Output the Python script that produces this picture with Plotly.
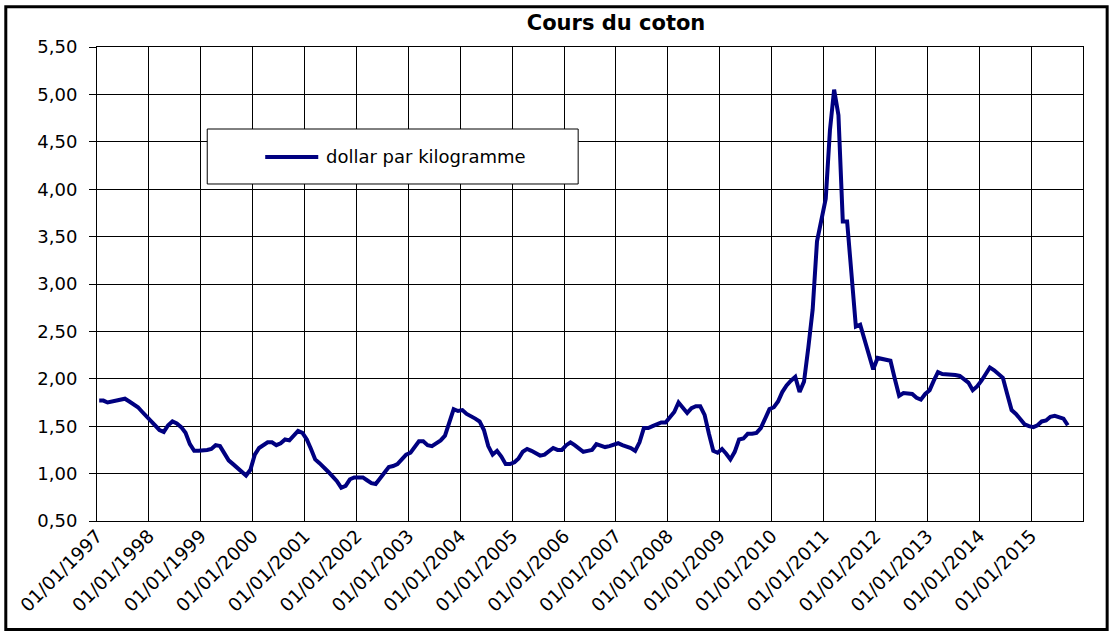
import plotly.graph_objects as go
import pandas as pd

titre = "Cours du coton"
nom_serie = "dollar par kilogramme"
debut = "1997-01-01"

# cours mensuel, dollar par kilogramme (janvier 1997 - septembre 2015)
prix = [
    1.77, 1.77, 1.75, 1.76, 1.78, 1.79, 1.79, 1.76, 1.73, 1.70, 1.65, 1.60,  # 1997
    1.55, 1.50, 1.46, 1.44, 1.51, 1.55, 1.53, 1.49, 1.43, 1.31, 1.24, 1.24,  # 1998
    1.24, 1.25, 1.26, 1.30, 1.29, 1.21, 1.14, 1.10, 1.06, 1.02, 0.98, 1.04,  # 1999
    1.20, 1.27, 1.30, 1.33, 1.33, 1.30, 1.32, 1.36, 1.35, 1.40, 1.45, 1.43,  # 2000
    1.36, 1.26, 1.15, 1.11, 1.07, 1.02, 0.97, 0.92, 0.85, 0.87, 0.94, 0.96,  # 2001
    0.96, 0.96, 0.93, 0.90, 0.89, 0.95, 1.02, 1.07, 1.08, 1.10, 1.15, 1.20,  # 2002
    1.22, 1.28, 1.34, 1.34, 1.30, 1.29, 1.32, 1.35, 1.40, 1.55, 1.68, 1.66,  # 2003
    1.67, 1.63, 1.61, 1.58, 1.55, 1.46, 1.29, 1.20, 1.24, 1.18, 1.10, 1.10,  # 2004
    1.12, 1.16, 1.23, 1.26, 1.24, 1.21, 1.19, 1.20, 1.23, 1.27, 1.25, 1.25,  # 2005
    1.30, 1.33, 1.30, 1.26, 1.23, 1.24, 1.25, 1.31, 1.30, 1.28, 1.29, 1.31,  # 2006
    1.32, 1.30, 1.29, 1.27, 1.24, 1.33, 1.48, 1.48, 1.50, 1.52, 1.54, 1.54,  # 2007
    1.59, 1.65, 1.75, 1.69, 1.64, 1.69, 1.71, 1.71, 1.62, 1.42, 1.24, 1.22,  # 2008
    1.26, 1.21, 1.15, 1.23, 1.36, 1.37, 1.42, 1.42, 1.43, 1.48, 1.58, 1.68,  # 2009
    1.70, 1.76, 1.86, 1.93, 1.98, 2.02, 1.86, 1.97, 2.33, 2.73, 3.45, 3.67,  # 2010
    3.90, 4.62, 5.05, 4.78, 3.66, 3.66, 3.12, 2.55, 2.57, 2.41, 2.28, 2.10,  # 2011
    2.22, 2.21, 2.20, 2.19, 2.00, 1.82, 1.85, 1.85, 1.84, 1.80, 1.78, 1.84,  # 2012
    1.88, 1.98, 2.07, 2.05, 2.05, 2.05, 2.04, 2.03, 1.99, 1.96, 1.88, 1.92,  # 2013
    1.98, 2.05, 2.12, 2.09, 2.05, 2.01, 1.84, 1.67, 1.63, 1.57, 1.52, 1.50,  # 2014
    1.49, 1.51, 1.55, 1.56, 1.60, 1.61, 1.60, 1.58, 1.51,                    # 2015
]

annees = list(range(1997, 2016))
etiquettes = [f"01/01/{a}" for a in annees]

POLICE = "DejaVu Sans"
BLEU = "#000080"

mois = pd.date_range(debut, periods=len(prix), freq="MS")

fig = go.Figure()
fig.add_trace(go.Scatter(
    x=mois, y=prix,
    xperiod="M1", xperiodalignment="middle",
    mode="lines",
    name=nom_serie,
    line=dict(color=BLEU, width=4),
    showlegend=False,
))

# cadre de légende façon Excel
fig.add_shape(type="rect", xref="paper", yref="paper",
              x0=0.1118, x1=0.4880, y0=0.711, y1=0.827,
              line=dict(color="black", width=1), fillcolor="white", layer="above")
fig.add_shape(type="line", xref="paper", yref="paper",
              x0=0.1706, x1=0.2244, y0=0.768, y1=0.768,
              line=dict(color=BLEU, width=4), layer="above")
fig.add_annotation(text=nom_serie, xref="paper", yref="paper",
                   x=0.2305, y=0.768, xanchor="left", yanchor="middle",
                   showarrow=False, font=dict(family=POLICE, size=18, color="black"))

# bordure extérieure du graphique
fig.add_shape(type="rect", xref="paper", yref="paper",
              x0=-0.0925, x1=1.0245, y0=-0.229, y1=1.085,
              line=dict(color="black", width=3), layer="above")

fig.update_layout(
    width=1113, height=634,
    margin=dict(l=97, r=30, t=47, b=113),
    paper_bgcolor="white",
    plot_bgcolor="white",
    separators=", ",
    font=dict(family=POLICE, size=18, color="black"),
    title=dict(text=f"<b>{titre}</b>", x=0.5535, xref="container", xanchor="center",
               y=0.9637, yref="container", yanchor="middle",
               font=dict(family=POLICE, size=21, color="black")),
    xaxis=dict(
        type="date",
        range=["1997-01-01", "2016-01-01"],
        tickvals=[f"{a}-01-01" for a in annees],
        ticktext=etiquettes,
        tickangle=-45,
        ticks="",
        ticklabelstandoff=-4,
        showgrid=True, gridcolor="black", gridwidth=1,
        showline=True, mirror=True, linecolor="black", linewidth=1,
        tickfont=dict(family=POLICE, size=18.5, color="black"),
        zeroline=False,
    ),
    yaxis=dict(
        range=[0.5, 5.5],
        tick0=0.5, dtick=0.5,
        tickformat=".2f",
        ticks="outside", ticklen=7, tickcolor="black",
        ticklabelstandoff=8,
        showgrid=True, gridcolor="black", gridwidth=1,
        showline=True, mirror=True, linecolor="black", linewidth=1,
        tickfont=dict(family=POLICE, size=18, color="black"),
        zeroline=False,
    ),
    showlegend=False,
)

# la page a une marge de 8 px par défaut : on la supprime pour coller au cadre
fig.write_html("out.html", config={"displayModeBar": False},
               post_script="document.body.style.margin = '0px';")
